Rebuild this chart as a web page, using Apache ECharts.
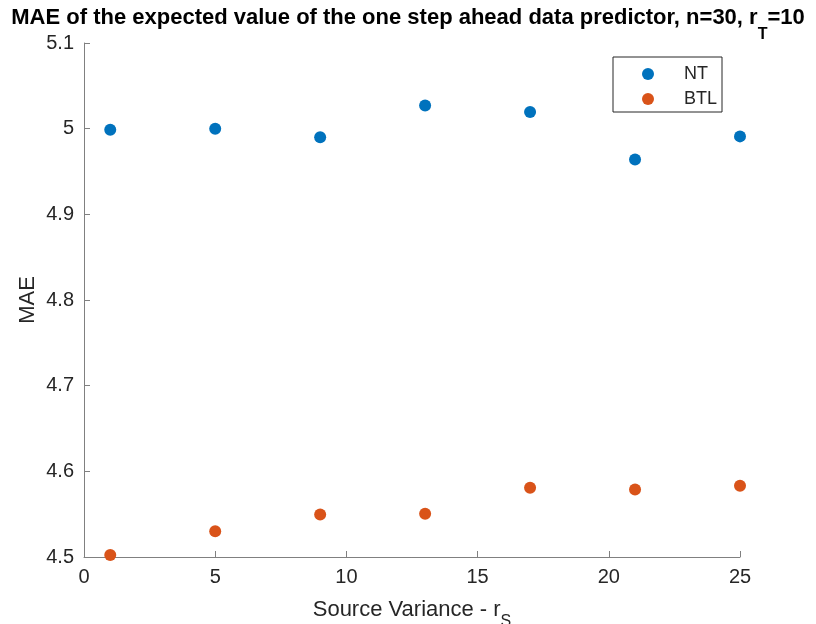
<!DOCTYPE html>
<html>
<head>
<meta charset="utf-8">
<script src="https://cdn.jsdelivr.net/npm/echarts@6/dist/echarts.min.js"></script>
<style>html,body{margin:0;padding:0;background:#fff}#c{width:816px;height:624px}</style>
</head>
<body>
<div id="c"></div>
<script>
const sourceVariance = [1, 5, 9, 13, 17, 21, 25];
const maeNT = [4.9988, 5.0000, 4.9900, 5.0270, 5.0195, 4.9640, 4.9910];
const maeBTL = [4.5023, 4.5300, 4.5496, 4.5504, 4.5808, 4.5789, 4.5832];
const seriesNames = ['NT', 'BTL'];

const chart = echarts.init(document.getElementById('c'), null, {renderer: 'canvas'});
const font = 'Liberation Sans, Arial, Helvetica, sans-serif';
const axisCol = '#808080';
const textCol = '#262626';

chart.setOption({
  animation: false,
  backgroundColor: '#fff',
  title: {
    text: '{m|MAE of the expected value of the one step ahead data predictor, n=30, r}{s|T}{m|=10}',
    left: 'center',
    top: -7,
    padding: 0,
    textStyle: {
      rich: {
        m: {fontFamily: font, fontWeight: 'bold', fontSize: 22, color: '#000'},
        s: {fontFamily: font, fontWeight: 'bold', fontSize: 16, color: '#000', padding: [34, 0, 0, 0]}
      }
    }
  },
  grid: {left: 84, right: 76, top: 43, bottom: 67, containLabel: false, outerBoundsMode: 'none'},
  legend: {
    data: seriesNames,
    orient: 'vertical',
    left: 613,
    top: 57,
    padding: [8, 5, 4, 29],
    itemGap: 7,
    itemWidth: 12,
    itemHeight: 12,
    icon: 'circle',
    backgroundColor: '#fff',
    borderColor: '#262626',
    borderWidth: 1,
    borderRadius: 0,
    textStyle: {fontFamily: font, fontSize: 18, color: textCol, padding: [0, 0, 0, 25], lineHeight: 18}
  },
  xAxis: {
    type: 'value',
    min: 0, max: 25, interval: 5,
    name: '{m|Source Variance - r}{s|S}',
    nameLocation: 'middle',
    nameGap: 33,
    nameTextStyle: {
      rich: {
        m: {fontFamily: font, fontSize: 22, color: textCol},
        s: {fontFamily: font, fontSize: 16, color: textCol, padding: [24, 0, 0, 0]}
      }
    },
    axisLine: {lineStyle: {color: axisCol, width: 1}},
    axisTick: {inside: true, length: 6, lineStyle: {color: axisCol}},
    axisLabel: {fontFamily: font, fontSize: 20, color: textCol, margin: 10},
    splitLine: {show: false}
  },
  yAxis: {
    type: 'value',
    min: 4.5, max: 5.1, interval: 0.1,
    name: 'MAE',
    nameLocation: 'middle',
    nameGap: 45,
    nameMoveOverlap: false,
    nameTextStyle: {fontFamily: font, fontSize: 22, color: textCol},
    axisLine: {show: true, lineStyle: {color: axisCol, width: 1}},
    axisTick: {show: true, inside: true, length: 6, lineStyle: {color: axisCol}},
    axisLabel: {fontFamily: font, fontSize: 20, color: textCol, margin: 10,
      formatter: v => String(Math.round(v * 10) / 10)},
    splitLine: {show: false}
  },
  series: [
    {
      name: seriesNames[0], type: 'scatter', symbolSize: 12,
      itemStyle: {color: '#0072BD', opacity: 1},
      data: sourceVariance.map((x, i) => [x, maeNT[i]])
    },
    {
      name: seriesNames[1], type: 'scatter', symbolSize: 12,
      itemStyle: {color: '#D95319', opacity: 1},
      data: sourceVariance.map((x, i) => [x, maeBTL[i]])
    }
  ]
});
</script>
</body>
</html>
